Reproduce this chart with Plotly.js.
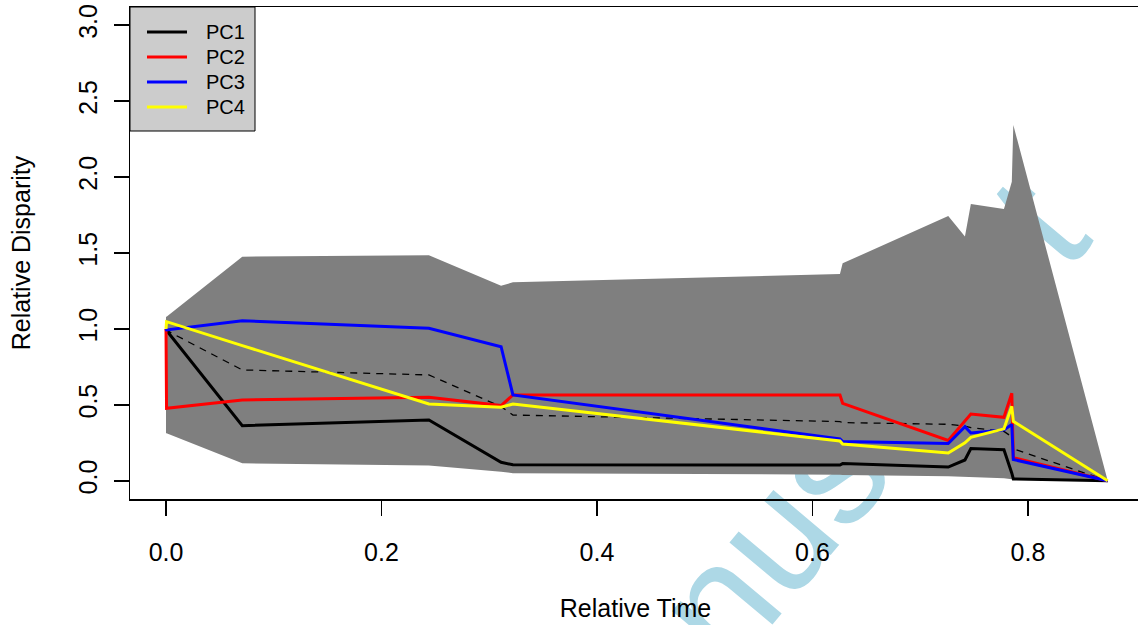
<!DOCTYPE html>
<html>
<head>
<meta charset="utf-8">
<script src="https://cdn.plot.ly/plotly-3.0.1.min.js"></script>
<style>
html, body { margin:0; padding:0; overflow:hidden; background:#ffffff; width:1138px; height:625px; }
#wm { position:absolute; left:0; top:0; z-index:0; }
#chart { position:absolute; left:0; top:0; z-index:1; }
</style>
</head>
<body>
<svg id="wm" width="1138" height="625"></svg>
<div id="chart"></div>
<script>
// Relative time points
const relTime = [0, 0.0005, 0.0708, 0.244, 0.311, 0.322, 0.6255, 0.628, 0.726, 0.7415, 0.747, 0.7777, 0.785, 0.7864, 0.874];
// envelope of simulated disparity
const envUpper = [1.08, 1.08, 1.476, 1.485, 1.285, 1.307, 1.362, 1.432, 1.744, 1.608, 1.823, 1.79, 1.97, 2.343, 0.0];
const envLower = [0.313, 0.313, 0.115, 0.10, 0.06, 0.05, 0.04, 0.038, 0.03, 0.027, 0.022, 0.017, 0.01, 0.005, 0.0];
const envMedian = [1.0, 0.99, 0.73, 0.697, 0.488, 0.433, 0.39, 0.383, 0.372, 0.36, 0.35, 0.325, 0.29, 0.21, 0.0];
// observed disparity per principal component
const pc1 = [1.0, 0.99, 0.363, 0.40, 0.122, 0.105, 0.104, 0.113, 0.09, 0.137, 0.212, 0.205, 0.05, 0.012, 0.0];
const pc2 = [1.0, 0.477, 0.532, 0.55, 0.495, 0.565, 0.565, 0.51, 0.266, 0.39, 0.44, 0.418, 0.576, 0.152, 0.0];
const pc3 = [1.0, 0.993, 1.054, 1.004, 0.883, 0.565, 0.275, 0.258, 0.245, 0.356, 0.315, 0.335, 0.37, 0.14, 0.0];
const pc4 = [1.0, 1.048, 0.89, 0.506, 0.484, 0.506, 0.262, 0.242, 0.183, 0.25, 0.286, 0.342, 0.49, 0.392, 0.0];
const seriesNames = ["PC1", "PC2", "PC3", "PC4"];
const seriesColors = ["#000000", "#FF0000", "#0000FF", "#FFFF00"];
const xTickVals = [0, 0.2, 0.4, 0.6, 0.8];
const xTickText = ["0.0", "0.2", "0.4", "0.6", "0.8"];
const yTickVals = [0, 0.5, 1, 1.5, 2, 2.5, 3];
const yTickText = ["0.0", "0.5", "1.0", "1.5", "2.0", "2.5", "3.0"];

// watermark (behind the chart)
const svgNS = "http://www.w3.org/2000/svg";
const wm = document.getElementById("wm");
const t = document.createElementNS(svgNS, "text");
t.setAttribute("x", "1095");
t.setAttribute("y", "240");
t.setAttribute("text-anchor", "end");
t.setAttribute("font-family", "Liberation Sans, Arial, sans-serif");
t.setAttribute("font-size", "162");
t.setAttribute("fill", "#ADD8E6");
t.setAttribute("transform", "rotate(-50 1095 240)");
t.textContent = "Author Manuscript";
wm.appendChild(t);

const FONT = "Liberation Sans, Arial, Helvetica, sans-serif";
const pcs = [pc1, pc2, pc3, pc4];

const traces = [];
traces.push({
  x: relTime.concat(relTime.slice().reverse()),
  y: envUpper.concat(envLower.slice().reverse()),
  type: "scatter", mode: "lines", fill: "toself",
  fillcolor: "#7F7F7F", line: {width: 0, color: "#7F7F7F"},
  showlegend: false, hoverinfo: "skip"
});
traces.push({
  x: relTime, y: envMedian, type: "scatter", mode: "lines",
  line: {color: "#000000", width: 1.3, dash: "7px,6px"},
  showlegend: false
});
for (let i = 0; i < 4; i++) {
  traces.push({
    x: relTime, y: pcs[i], type: "scatter", mode: "lines",
    name: seriesNames[i], showlegend: false,
    line: {color: seriesColors[i], width: 3}
  });
}

// layout geometry (pixels)
const W = 1142, H = 625, ML = 130, MR = 1, MT = 7, MB = 126;
const PW = W - ML - MR, PH = H - MT - MB;
const px = v => (v - ML) / PW;
const py = v => 1 - (v - MT) / PH;

// legend drawn as a box in the top-left corner
const shapes = [{
  type: "rect", xref: "paper", yref: "paper",
  x0: px(130), x1: px(255), y0: py(131), y1: py(7),
  fillcolor: "#CCCCCC", line: {color: "#000000", width: 1}, layer: "above"
}];
const annotations = [];
const legRows = [32, 57, 82, 107];
for (let i = 0; i < 4; i++) {
  shapes.push({
    type: "line", xref: "paper", yref: "paper",
    x0: px(147), x1: px(187), y0: py(legRows[i]), y1: py(legRows[i]),
    line: {color: seriesColors[i], width: 3}, layer: "above"
  });
  annotations.push({
    xref: "paper", yref: "paper", x: px(204), y: py(legRows[i]),
    xanchor: "left", yanchor: "middle", showarrow: false,
    text: seriesNames[i], font: {family: FONT, size: 20, color: "#000"}
  });
}

const axisCommon = {
  showgrid: false, zeroline: false, showline: true, mirror: true,
  linecolor: "#000000", linewidth: 1.5,
  ticks: "outside", ticklen: 15, tickwidth: 1.5, tickcolor: "#000000",
  tickfont: {family: FONT, size: 25, color: "#000000"}
};

const layout = {
  width: W, height: H,
  margin: {l: ML, r: MR, t: MT, b: MB, pad: 0},
  paper_bgcolor: "rgba(0,0,0,0)", plot_bgcolor: "rgba(0,0,0,0)",
  font: {family: FONT, color: "#000000"},
  xaxis: Object.assign({}, axisCommon, {
    range: [-0.03341, 0.9049],
    tickvals: xTickVals, ticktext: xTickText, ticklabelstandoff: 15,
    title: {text: "Relative Time", font: {family: FONT, size: 25, color: "#000"}, standoff: 35}
  }),
  yaxis: Object.assign({}, axisCommon, {
    range: [-0.12, 3.12],
    tickvals: yTickVals, ticktext: yTickText, tickangle: -90, ticklabelstandoff: 7,
    title: {text: "Relative Disparity", font: {family: FONT, size: 25, color: "#000"}, standoff: 36}
  }),
  shapes: shapes,
  annotations: annotations,
  showlegend: false
};

Plotly.newPlot("chart", traces, layout, {displayModeBar: false, staticPlot: true});
</script>
</body>
</html>
